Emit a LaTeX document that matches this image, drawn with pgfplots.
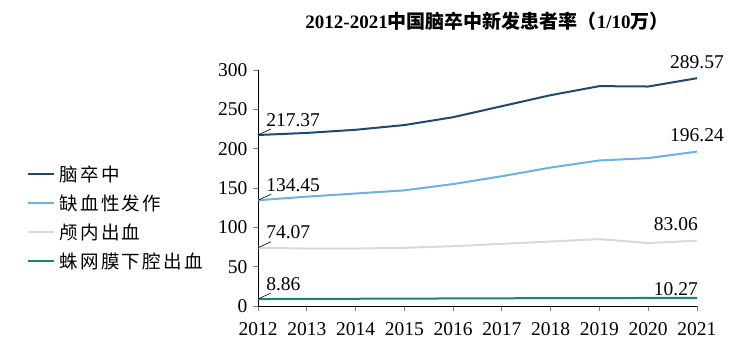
\documentclass[border=0pt]{standalone}
\usepackage{pgfplots}
\pgfplotsset{compat=1.18}
\usepackage{fontspec}
\setmainfont{Liberation Serif}
\newfontfamily\cjk{Noto Sans CJK SC}
\newfontfamily\cjkl{Noto Sans CJK SC}[LetterSpace=13]
\definecolor{cStroke}{HTML}{1D4A6E}
\definecolor{cIsch}{HTML}{6DB1E6}
\definecolor{cICH}{HTML}{D9D9D9}
\definecolor{cSAH}{HTML}{14857A}
\begin{document}
\begin{tikzpicture}
\path[use as bounding box] (0,0) rectangle (746pt,348pt);
\begin{axis}[
  at={(258pt,42pt)}, anchor=south west,
  scale only axis, width=439pt, height=236pt,
  xmin=2012, xmax=2021, ymin=0, ymax=300,
  axis lines*=left,
  axis line style={black, line width=0.8pt},
  xtick={2012,...,2021}, ytick={0,50,...,300},
  xticklabel style={/pgf/number format/1000 sep={}},
  /pgf/number format/assume math mode=true,
  tick align=outside, major tick length=5pt,
  tick style={gray, line width=0.8pt},
  tick label style={font=\fontsize{19.5}{22}\selectfont},
  xticklabel style={yshift=-8pt},
  yticklabel style={xshift=-2pt},
  clip=false,
  legend style={at={(axis description cs:-0.526,0.605)}, anchor=north west,
    draw=none, fill=none, font=\fontsize{18.5}{22}\selectfont\cjkl,
    row sep=8pt, inner sep=0pt},
  legend cell align=left,
  legend image code/.code={\draw[#1, line width=2pt] (0pt,0pt) -- (26pt,0pt);},
]
\addplot[cStroke, line width=2pt] coordinates {(2012,217.37)(2013,220)(2014,224)(2015,230)(2016,240)(2017,254)(2018,268)(2019,279.5)(2020,279)(2021,289.57)};
\addlegendentry{\hspace{2pt}脑卒中}
\addplot[cIsch, line width=2pt] coordinates {(2012,134.45)(2013,139)(2014,143)(2015,147)(2016,155)(2017,165)(2018,176)(2019,185)(2020,188)(2021,196.24)};
\addlegendentry{\hspace{2pt}缺血性发作}
\addplot[cICH, line width=2pt] coordinates {(2012,74.07)(2013,73)(2014,73)(2015,74)(2016,76)(2017,79)(2018,82)(2019,85)(2020,80)(2021,83.06)};
\addlegendentry{\hspace{2pt}颅内出血}
\addplot[cSAH, line width=2pt] coordinates {(2012,8.86)(2013,9)(2014,9.2)(2015,9.4)(2016,9.6)(2017,9.8)(2018,10)(2019,10.1)(2020,10.2)(2021,10.27)};
\addlegendentry{\hspace{2pt}蛛网膜下腔出血}
% data labels
\begin{scope}[every node/.style={font=\fontsize{19.5}{22}\selectfont, inner sep=0pt}]
\draw[black, line width=0.6pt] (axis cs:2012,217.37) -- ++(13pt,6pt) node[anchor=base west, xshift=-5pt, yshift=3pt]{217.37};
\draw[black, line width=0.6pt] (axis cs:2012,134.45) -- ++(13pt,6pt) node[anchor=base west, xshift=-5pt, yshift=3pt]{134.45};
\draw[black, line width=0.6pt] (axis cs:2012,74.07) -- ++(13pt,6pt) node[anchor=base west, xshift=-5pt, yshift=3pt]{74.07};
\draw[black, line width=0.6pt] (axis cs:2012,8.86) -- ++(13pt,6pt) node[anchor=base west, xshift=-5pt, yshift=3pt]{8.86};
\node[anchor=base] at ([yshift=10pt]axis cs:2021,289.57) {289.57};
\node[anchor=base] at ([yshift=10pt]axis cs:2021,196.24) {196.24};
\node[anchor=base east] at ([yshift=10pt, xshift=1pt]axis cs:2021,83.06) {83.06};
\node[anchor=base east] at ([yshift=2pt, xshift=1pt]axis cs:2021,10.27) {10.27};
\end{scope}
\end{axis}
\node[anchor=base] at (487pt,348pt-29pt) {\fontsize{19}{22}\selectfont\bfseries 2012-2021{\cjk\bfseries 中国脑卒中新发患者率（}1/10{\cjk\bfseries 万）}};
\end{tikzpicture}
\end{document}
